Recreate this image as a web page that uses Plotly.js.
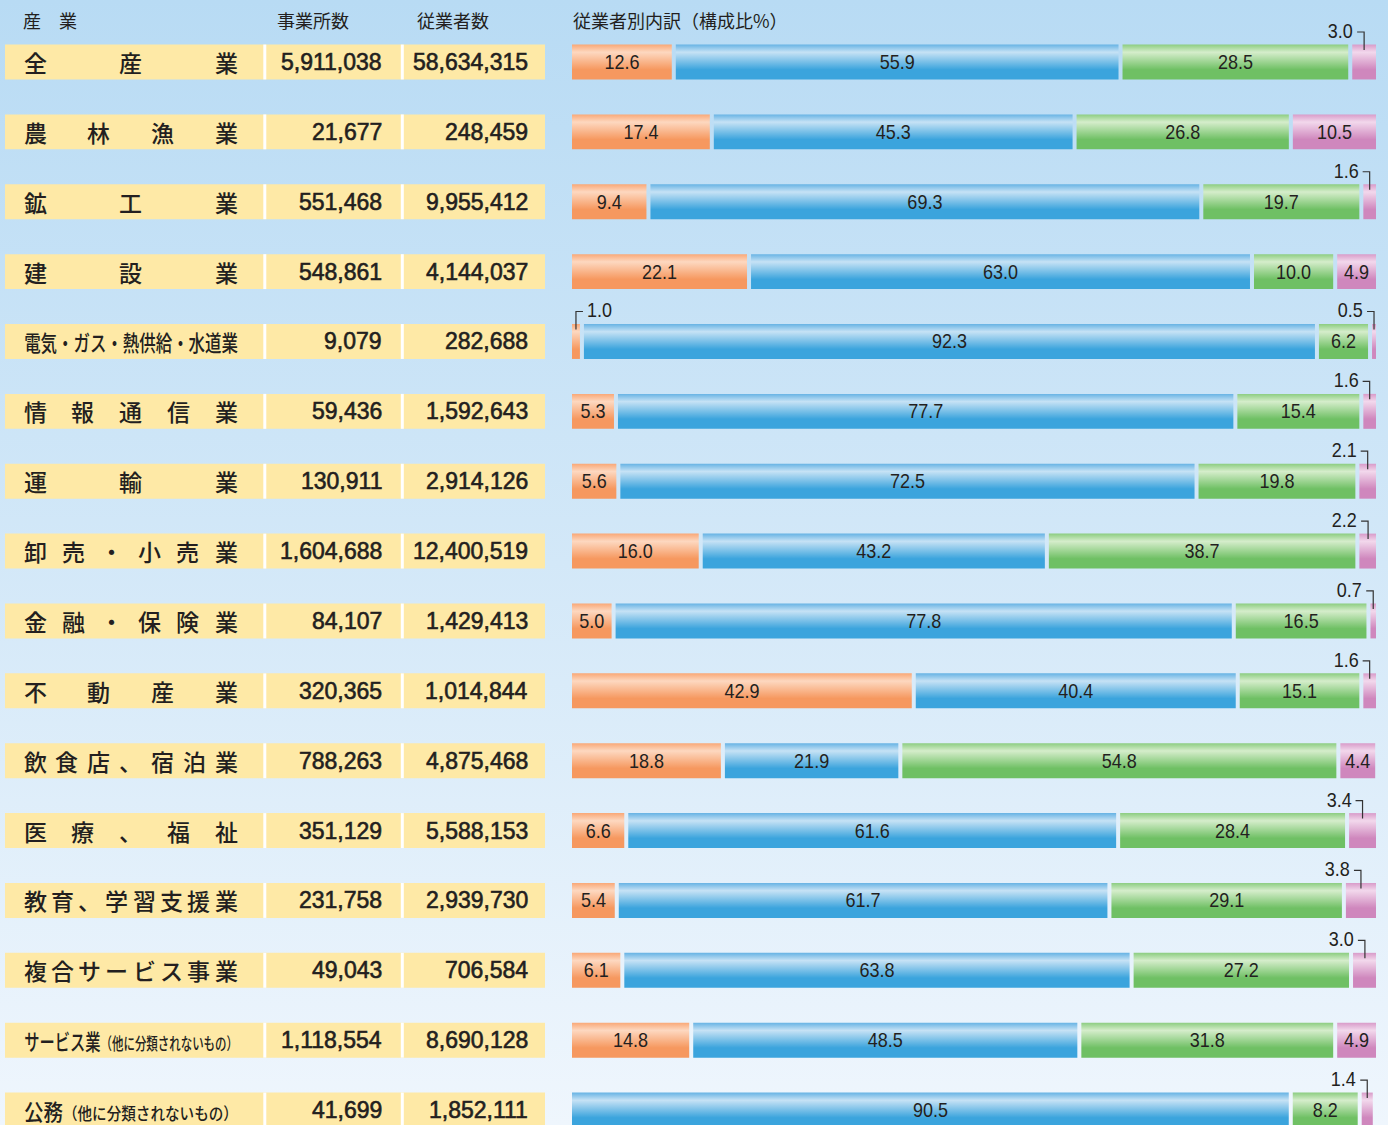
<!DOCTYPE html>
<html>
<head>
<meta charset="utf-8">
<script src="https://cdn.plot.ly/plotly-3.0.1.min.js"></script>
<style>
  html, body { margin: 0; padding: 0; }
  #chart { width: 1388px; height: 1125px;
    background: linear-gradient(to bottom, #b8dbf4 0%, #d3e8f8 50%, #eff6fd 100%); }
</style>
</head>
<body>
<div id="chart"></div>
<script>
// ---------- data ----------
const headerIndustry = '産　業';
const headerEstablishments = '事業所数';
const headerEmployees = '従業者数';
const headerBreakdown = '従業者別内訳（構成比%）';

const industries = [
  '全産業', '農林漁業', '鉱工業', '建設業', '電気・ガス・熱供給・水道業',
  '情報通信業', '運輸業', '卸売・小売業', '金融・保険業', '不動産業',
  '飲食店、宿泊業', '医療、福祉', '教育、学習支援業', '複合サービス事業',
  'サービス業（他に分類されないもの）', '公務（他に分類されないもの）'
];
const establishments = [5911038, 21677, 551468, 548861, 9079, 59436, 130911, 1604688,
  84107, 320365, 788263, 351129, 231758, 49043, 1118554, 41699];
const employees = [58634315, 248459, 9955412, 4144037, 282688, 1592643, 2914126, 12400519,
  1429413, 1014844, 4875468, 5588153, 2939730, 706584, 8690128, 1852111];

const share1 = [12.6, 17.4, 9.4, 22.1, 1.0, 5.3, 5.6, 16.0, 5.0, 42.9, 18.8, 6.6, 5.4, 6.1, 14.8, null];
const share2 = [55.9, 45.3, 69.3, 63.0, 92.3, 77.7, 72.5, 43.2, 77.8, 40.4, 21.9, 61.6, 61.7, 63.8, 48.5, 90.5];
const share3 = [28.5, 26.8, 19.7, 10.0, 6.2, 15.4, 19.8, 38.7, 16.5, 15.1, 54.8, 28.4, 29.1, 27.2, 31.8, 8.2];
const share4 = [3.0, 10.5, 1.6, 4.9, 0.5, 1.6, 2.1, 2.2, 0.7, 1.6, 4.4, 3.4, 3.8, 3.0, 4.9, 1.4];

// ---------- styling ----------
const W = 1388, H = 1125;
const ROW0 = 62, ROWH = 69.87;
const BAR_X0 = 572, BAR_X1 = 1376, GAP_PX = 4;
const seriesList = [share1, share2, share3, share4];
const gradients = [
  ['#f9a877', '#fdd8c0', '#f6985f'],
  ['#67b3e4', '#c6e2f5', '#3ba4dd'],
  ['#8ccd81', '#d5edcb', '#6fc064'],
  ['#d89bc9', '#f2d8ec', '#cf87bd']
];
const CJK = '"Noto Sans CJK JP", "Noto Sans", sans-serif';
const NUMF = '"Liberation Sans", Arial, sans-serif';
const INK = '#231f20';
const NARROW_SCALE = 0.9;
const LABEL_SIZE = 20;

const pxX = v => v / W;
const pxY = v => 1 - v / H;
const n = industries.length;
const rows = industries.map((_, i) => i);

const unitPx = (BAR_X1 - BAR_X0 - 3 * GAP_PX) / 100;
const gapU = GAP_PX / unitPx;
const xMax = (BAR_X1 - BAR_X0) / unitPx;

// bases computed from the data
const bases = seriesList.map(() => []);
for (let i = 0; i < n; i++) {
  let cum = 0, first = true;
  seriesList.forEach((s, k) => {
    const v = s[i];
    if (v) {
      const b = first ? cum : cum + gapU;
      bases[k][i] = b;
      cum = b + v;
      first = false;
    } else {
      bases[k][i] = cum;
    }
  });
}

const TH = 4; // below this the value is written outside
const traces = seriesList.map((s, k) => ({
  type: 'bar', orientation: 'h',
  y: rows, x: s, base: bases[k], width: 0.5,
  marker: { color: gradients[k][2], line: { width: 0 } },
  text: s.map(v => (v && v >= TH) ? v.toFixed(1) : ''),
  textposition: 'inside', insidetextanchor: 'middle', constraintext: 'none',
  textangle: 0,
  textfont: { family: NUMF, size: LABEL_SIZE, color: INK },
  hoverinfo: 'skip', showlegend: false
}));

const shapes = [];
const annotations = [];

// table cells
rows.forEach(i => {
  shapes.push({ type: 'rect', layer: 'below', xref: 'paper', yref: 'y',
    x0: pxX(5), x1: pxX(545), y0: i - 0.25, y1: i + 0.25,
    fillcolor: '#fee9a6', line: { width: 0 } });
  [[263.3, 266.3], [400.8, 403.8]].forEach(([a, b]) => {
    shapes.push({ type: 'rect', layer: 'below', xref: 'paper', yref: 'y',
      x0: pxX(a), x1: pxX(b), y0: i - 0.25, y1: i + 0.25,
      fillcolor: '#ffffff', line: { width: 0 } });
  });
});

// headers
const hdr = (text, x) => annotations.push({ xref: 'paper', yref: 'paper', x: pxX(x), y: pxY(20),
  xanchor: 'left', yanchor: 'middle', showarrow: false, text,
  font: { family: CJK, size: 18, color: INK } });
hdr(headerIndustry, 21);
hdr(headerEstablishments, 275);
hdr(headerEmployees, 415);
hdr(headerBreakdown, 571);

// industry names and numbers
const compressIdx = [];
const numberIdx = [];
industries.forEach((name, i) => {
  const paren = name.indexOf('（');
  if (paren >= 0 || name.length > 9) {
    let txt = name;
    if (paren >= 0) {
      txt = name.slice(0, paren) + '<span style="font-size:16.5px">' + name.slice(paren) + '</span>';
    }
    compressIdx.push(annotations.length);
    annotations.push({ xref: 'paper', yref: 'y', x: pxX(22), y: i, xanchor: 'left', yanchor: 'middle',
      showarrow: false, text: txt, font: { family: CJK, size: 22, color: INK, weight: 500 } });
  } else {
    const chars = Array.from(name);
    const step = (226 - 35) / (chars.length - 1);
    chars.forEach((c, k) => {
      annotations.push({ xref: 'paper', yref: 'y', x: pxX(35 + k * step), y: i,
        xanchor: 'center', yanchor: 'middle', showarrow: false, text: c,
        font: { family: CJK, size: 23, color: INK, weight: 500 } });
    });
  }
  numberIdx.push(annotations.length);
  annotations.push({ xref: 'paper', yref: 'y', x: pxX(384), y: i, xanchor: 'right', yanchor: 'middle',
    showarrow: false, text: establishments[i].toLocaleString('en-US'),
    font: { family: NUMF, size: 23, color: INK } });
  numberIdx.push(annotations.length);
  annotations.push({ xref: 'paper', yref: 'y', x: pxX(530), y: i, xanchor: 'right', yanchor: 'middle',
    showarrow: false, text: employees[i].toLocaleString('en-US'),
    font: { family: NUMF, size: 23, color: INK } });
});

// small values written above the bar with a bracket
const outsideIdx = [];
rows.forEach(i => {
  const firstK = seriesList.findIndex(s => s[i]);
  seriesList.forEach((s, k) => {
    const v = s[i];
    if (!v || v >= TH) return;
    const cx = bases[k][i] + v / 2;
    const left = (k === firstK);
    shapes.push({ type: 'path', xref: 'x', yref: 'y', xsizemode: 'pixel', ysizemode: 'pixel',
      xanchor: cx, yanchor: i,
      path: left ? 'M 0,12 L 0,30 L 7,30' : 'M -7,30 L 0,30 L 0,12',
      line: { color: '#333333', width: 1.2 } });
    outsideIdx.push([annotations.length, left]);
    annotations.push({ xref: 'x', yref: 'y', x: cx, y: i, xanchor: left ? 'left' : 'right',
      yanchor: 'middle', xshift: left ? 9 : -9, yshift: 31, showarrow: false,
      text: v.toFixed(1), font: { family: NUMF, size: LABEL_SIZE, color: INK } });
  });
});

const layout = {
  width: W, height: H,
  margin: { l: 0, r: 0, t: 0, b: 0, pad: 0 },
  paper_bgcolor: 'rgba(0,0,0,0)', plot_bgcolor: 'rgba(0,0,0,0)',
  barmode: 'overlay', showlegend: false, hovermode: false,
  xaxis: { domain: [pxX(BAR_X0), pxX(BAR_X1)], range: [0, xMax], visible: false, fixedrange: true },
  yaxis: { range: [(H - ROW0) / ROWH, -ROW0 / ROWH], visible: false, fixedrange: true },
  shapes, annotations
};

Plotly.newPlot('chart', traces, layout, { staticPlot: true, displayModeBar: false }).then(gd => {
  const svg = gd.querySelector('.main-svg');
  const defs = svg.querySelector('defs');
  const NS = 'http://www.w3.org/2000/svg';
  gradients.forEach((g, k) => {
    const lg = document.createElementNS(NS, 'linearGradient');
    lg.setAttribute('id', 'bargrad' + k);
    lg.setAttribute('x1', '0'); lg.setAttribute('y1', '0');
    lg.setAttribute('x2', '0'); lg.setAttribute('y2', '1');
    [[0, g[0]], [0.22, g[1]], [0.72, g[2]], [1, g[2]]].forEach(([o, c]) => {
      const st = document.createElementNS(NS, 'stop');
      st.setAttribute('offset', o); st.setAttribute('stop-color', c);
      lg.appendChild(st);
    });
    defs.appendChild(lg);
  });
  gd.querySelectorAll('.barlayer .trace').forEach((tr, k) => {
    tr.querySelectorAll('.point path').forEach(p => { p.style.fill = 'url(#bargrad' + k + ')'; });
  });
  // slightly condensed bar labels
  gd.querySelectorAll('.barlayer text.bartext').forEach(t => {
    t.setAttribute('transform', (t.getAttribute('transform') || '') + ' scale(' + NARROW_SCALE + ',1)');
  });
  const annText = idx => gd.querySelector('.annotation[data-index="' + idx + '"] text');
  outsideIdx.forEach(([idx, left]) => {
    const t = annText(idx);
    if (!t) return;
    t.style.transformBox = 'fill-box';
    t.style.transformOrigin = (left ? '0%' : '100%') + ' 50%';
    t.style.transform = 'scaleX(' + NARROW_SCALE + ')';
  });
  numberIdx.forEach(idx => {
    const t = annText(idx);
    if (!t) return;
    t.style.stroke = INK;
    t.style.strokeWidth = '0.6px';
  });
  compressIdx.forEach(idx => {
    const t = annText(idx);
    if (!t) return;
    const w = t.getBBox().width;
    const s = Math.min(1, 214 / w);
    t.style.transformBox = 'fill-box';
    t.style.transformOrigin = '0% 50%';
    t.style.transform = 'scaleX(' + s + ')';
  });
});
</script>
</body>
</html>
